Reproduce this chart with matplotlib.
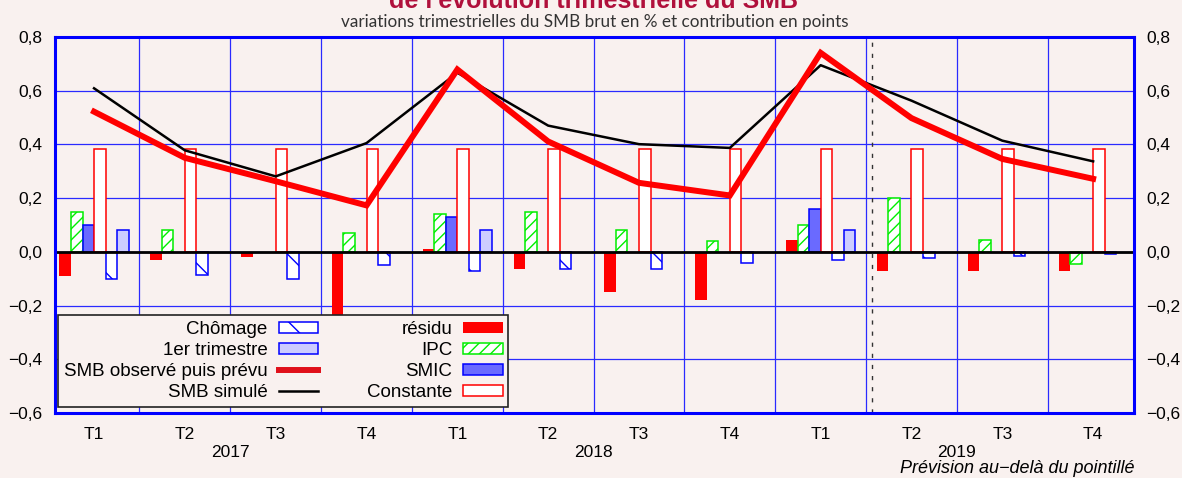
import matplotlib
matplotlib.use('Agg')
import matplotlib.pyplot as plt
import numpy as np
from matplotlib.lines import Line2D
from matplotlib.patches import Patch
from matplotlib import transforms

# ---- data ----
quarters = ['T1', 'T2', 'T3', 'T4', 'T1', 'T2', 'T3', 'T4', 'T1', 'T2', 'T3', 'T4']
years = ['2017', '2018', '2019']
residu = [-0.09, -0.03, -0.02, -0.24, 0.01, -0.065, -0.15, -0.18, 0.045, -0.07, -0.07, -0.07]
ipc = [0.15, 0.08, 0.0, 0.07, 0.14, 0.15, 0.08, 0.04, 0.10, 0.20, 0.045, -0.045]
smic = [0.10, 0.0, 0.0, 0.0, 0.13, 0.0, 0.0, 0.0, 0.16, 0.0, 0.0, 0.0]
constante = [0.383] * 12
chomage = [-0.10, -0.085, -0.10, -0.05, -0.07, -0.065, -0.065, -0.04, -0.03, -0.024, -0.016, -0.007]
premier_trim = [0.08, 0.0, 0.0, 0.0, 0.08, 0.0, 0.0, 0.0, 0.08, 0.0, 0.0, 0.0]
smb_observe = [0.522, 0.35, 0.263, 0.173, 0.679, 0.411, 0.257, 0.21, 0.741, 0.498, 0.346, 0.272]
smb_simule = [0.609, 0.378, 0.281, 0.405, 0.667, 0.47, 0.401, 0.387, 0.695, 0.563, 0.414, 0.337]
yticks = [-0.6, -0.4, -0.2, 0.0, 0.2, 0.4, 0.6, 0.8]

plt.rcParams['font.family'] = ['Liberation Sans', 'DejaVu Sans']
plt.rcParams['hatch.linewidth'] = 1.0

BG = '#f9f1ef'
fig = plt.figure(figsize=(11.82, 4.78), dpi=100, facecolor=BG)
ax = fig.add_axes([55 / 1182, 1 - 413 / 478, (1134 - 55) / 1182, (413 - 37) / 478])
ax.set_facecolor(BG)

x = np.arange(len(quarters))
w = 0.127


def draw(values, off, **kw):
    vals = np.array(values, dtype=float)
    idx = np.nonzero(vals)[0]
    ax.bar(x[idx] + off * w, vals[idx], width=w, zorder=3, **kw)


draw(residu, -2.5, color='#ff0000', edgecolor='none')
draw(ipc, -1.5, facecolor='white', edgecolor='#00ee00', hatch='///', linewidth=1.1)
draw(smic, -0.5, facecolor='#6a6aff', edgecolor='#0000ff', linewidth=1.1)
draw(constante, 0.5, facecolor='white', edgecolor='#ff0000', linewidth=1.1)
draw(chomage, 1.5, facecolor='white', edgecolor='#0000ff', hatch='\\', linewidth=1.1)
draw(premier_trim, 2.5, facecolor='#ccccff', edgecolor='#0000ff', linewidth=1.1)

ax.plot(x, smb_simule, color='black', lw=1.8, zorder=5)
ax.plot(x, smb_observe, color='#ff0000', lw=4.3, zorder=6, solid_joinstyle='miter')

ax.axhline(0, color='black', lw=2, zorder=4)
ax.axvline(8.57, color='#333333', lw=1, ls=(0, (3, 5)), zorder=4)

# grid
for yv in yticks:
    ax.axhline(yv, color='#2a2aff', lw=0.9, zorder=1)
for xv in np.arange(0.5, 11, 1):
    ax.axvline(xv, color='#2a2aff', lw=0.9, zorder=1)

ax.set_xlim(-0.43, 11.45)
ax.set_ylim(-0.6, 0.8)
ax.set_yticks(yticks)
labels = [f'{v:.1f}'.replace('.', ',').replace('-', '\u2212') for v in yticks]
ax.set_yticklabels(labels, fontsize=12.5)
ax.tick_params(axis='y', length=0, pad=9, labelright=True, right=False)
ax.set_xticks([])
for s in ax.spines.values():
    s.set_color('#0000ff')
    s.set_linewidth(2.2)
    s.set_zorder(7)

tr = transforms.blended_transform_factory(ax.transData, ax.transAxes)
for i, q in enumerate(quarters):
    ax.text(i, -0.057, q, transform=tr, ha='center', va='center', fontsize=12.5)
for k, yr in enumerate(years):
    ax.text(4 * k + 1.5, -0.105, yr, transform=tr, ha='center', va='center', fontsize=12.5)
ax.text(1.0, -0.148, 'Prévision au\u2212delà du pointillé', transform=ax.transAxes,
        ha='right', va='center', fontsize=13, style='italic')

fig.text(0.502, 1 - 8 / 478, "de l'évolution trimestrielle du SMB", ha='center', va='baseline',
         fontsize=18, fontweight='bold', color='#b0103c')
fig.text(0.503, 1 - 27 / 478, 'variations trimestrielles du SMB brut en % et contribution en points',
         ha='center', va='baseline', fontsize=12.3, color='#333333', family=['Lato', 'DejaVu Sans'])

handles = [
    Patch(facecolor='white', edgecolor='#0000ff', hatch='\\', linewidth=1.1, label='Chômage'),
    Patch(facecolor='#ccccff', edgecolor='#0000ff', linewidth=1.1, label='1er trimestre'),
    Line2D([], [], color='#e0101a', lw=4.3, label='SMB observé puis prévu'),
    Line2D([], [], color='black', lw=1.8, label='SMB simulé'),
    Patch(facecolor='#ff0000', edgecolor='none', label='résidu'),
    Patch(facecolor='white', edgecolor='#00ee00', hatch='///', linewidth=1.1, label='IPC'),
    Patch(facecolor='#6a6aff', edgecolor='#0000ff', linewidth=1.1, label='SMIC'),
    Patch(facecolor='white', edgecolor='#ff0000', linewidth=1.1, label='Constante'),
]
leg = ax.legend(handles=handles, ncol=2, markerfirst=False, loc='lower left',
                bbox_to_anchor=(0.003, 0.016), fontsize=13.5, frameon=True, fancybox=False,
                edgecolor='#222222', facecolor=BG, framealpha=1, handlelength=2.1,
                handleheight=0.5, labelspacing=0.22, columnspacing=2.6, borderpad=0.3,
                handletextpad=0.6, borderaxespad=0)
leg.get_frame().set_linewidth(1.2)
leg.set_zorder(8)

fig.savefig('out.png', dpi=100, facecolor=BG)
